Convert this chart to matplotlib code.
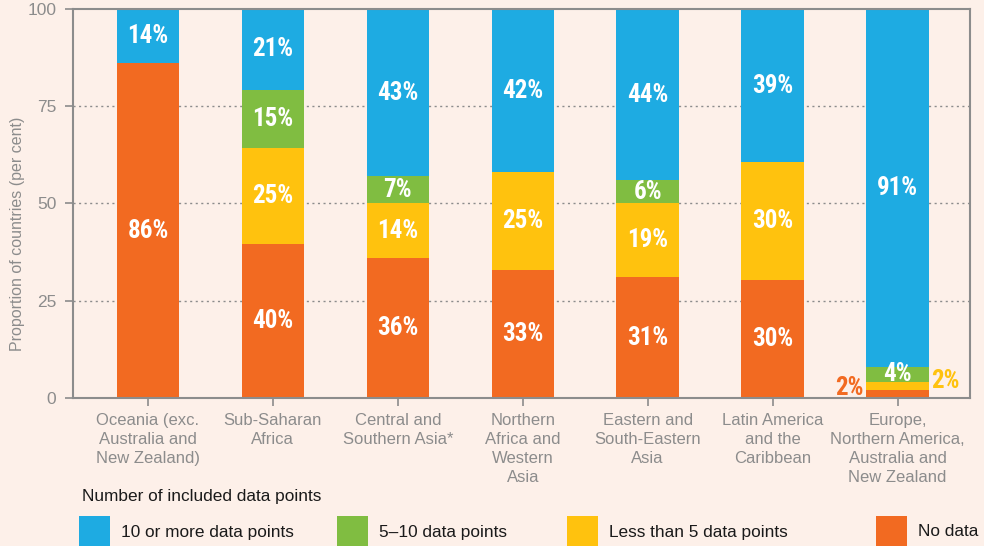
import matplotlib.pyplot as plt
from matplotlib.patches import Rectangle
import numpy as np

regions = ["Oceania (exc.\nAustralia and\nNew Zealand)", "Sub-Saharan\nAfrica",
           "Central and\nSouthern Asia*", "Northern\nAfrica and\nWestern\nAsia",
           "Eastern and\nSouth-Eastern\nAsia", "Latin America\nand the\nCaribbean",
           "Europe,\nNorthern America,\nAustralia and\nNew Zealand"]
no_data = [86, 40, 36, 33, 31, 30, 2]
less5 = [0, 25, 14, 25, 19, 30, 2]
five_ten = [0, 15, 7, 0, 6, 0, 4]
ten_plus = [14, 21, 43, 42, 44, 39, 91]
series_names = ["10 or more data points", "5\u201310 data points", "Less than 5 data points", "No data"]

c_blue = "#1eabe2"
c_green = "#80bd41"
c_yellow = "#ffc20e"
c_orange = "#f26a21"
bg = "#fdf0e9"
gray = "#8c8c8c"

plt.rcParams['font.family'] = ['Liberation Sans', 'DejaVu Sans']

fig = plt.figure(figsize=(9.84, 5.46), dpi=100, facecolor=bg)
ax = fig.add_axes([0.0742, 0.2711, 0.9116, 0.7124])
ax.set_facecolor(bg)

stack = [(no_data, c_orange), (less5, c_yellow), (five_ten, c_green), (ten_plus, c_blue)]
totals = np.array(no_data) + np.array(less5) + np.array(five_ten) + np.array(ten_plus)
x = np.arange(len(regions))
bottom = np.zeros(len(regions))
lab_font = dict(family=['Roboto Condensed', 'Liberation Sans Narrow', 'DejaVu Sans'],
                fontweight='bold', fontstretch='condensed', fontsize=18)
for vals, col in stack:
    h = np.array(vals) / totals * 100
    ax.bar(x, h, 0.5, bottom=bottom, color=col, zorder=2)
    for i in range(len(regions)):
        if vals[i] == 0:
            continue
        if i == len(regions) - 1 and col in (c_orange, c_yellow):
            # small segments labelled outside the bar
            if col == c_orange:
                ax.text(x[i] - 0.27, 2.6, f"{vals[i]}%", color=c_orange, ha='right', va='center', **lab_font)
            else:
                ax.text(x[i] + 0.27, 4.4, f"{vals[i]}%", color=c_yellow, ha='left', va='center', **lab_font)
            continue
        ax.text(x[i], bottom[i] + h[i] / 2, f"{vals[i]}%", color='white', ha='center', va='center', **lab_font)
    bottom += h

ax.set_xlim(-0.6, 6.58)
ax.set_ylim(0, 100)
ax.set_yticks([0, 25, 50, 75, 100])
ax.set_xticks(x)
ax.set_xticklabels(regions, fontsize=12, color=gray, linespacing=1.32)
ax.tick_params(axis='both', colors=gray, length=6, width=1.2)
ax.tick_params(axis='y', pad=6, labelsize=12.5)
ax.tick_params(axis='x', pad=5)
for lab in ax.get_xticklabels() + ax.get_yticklabels():
    lab.set_color(gray)
for y in [25, 50, 75]:
    ax.axhline(y, color=gray, linestyle=(0, (1.5, 2.5)), linewidth=1, zorder=1)
for s in ax.spines.values():
    s.set_color(gray)
    s.set_linewidth(1.5)

fig.text(18 / 984, 1 - 234 / 546, "Proportion of countries (per cent)", rotation=90,
         ha='center', va='center', color=gray, fontsize=11.5)

# legend
fig.text(82 / 984, 1 - 497 / 546, "Number of included data points", ha='left', va='center',
         color='#1a1a1a', fontsize=12.4)
leg_x = [79, 337, 567, 876]
leg_cols = [c_blue, c_green, c_yellow, c_orange]
for lx, col, name in zip(leg_x, leg_cols, series_names):
    fig.add_artist(Rectangle((lx / 984, 0), 31 / 984, 30 / 546, transform=fig.transFigure,
                             facecolor=col, edgecolor='none'))
    fig.text((lx + 42) / 984, 1 - 532 / 546, name, ha='left', va='center', color='#1a1a1a', fontsize=12.4)

fig.savefig("out.png", dpi=100, facecolor=bg)
